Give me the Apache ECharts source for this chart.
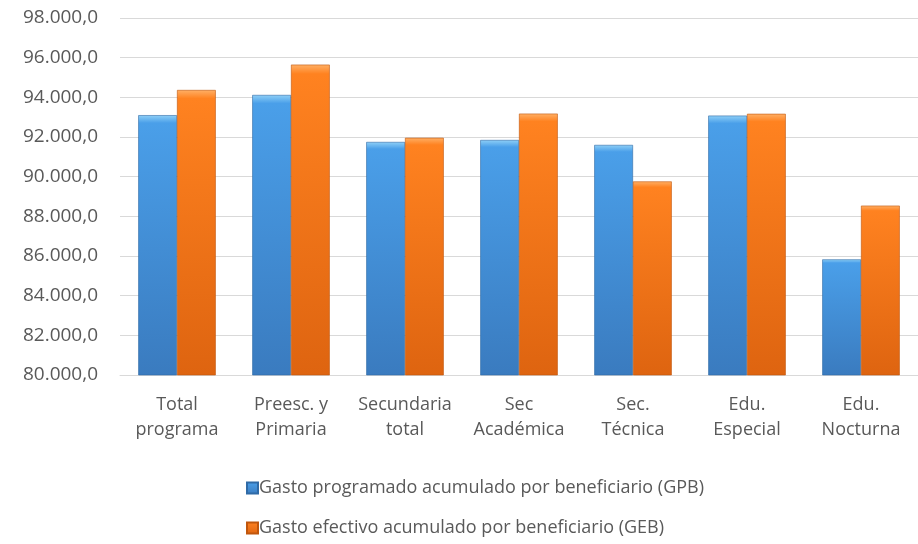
<!DOCTYPE html>
<html>
<head>
<meta charset="utf-8">
<script src="https://cdn.jsdelivr.net/npm/echarts@6/dist/echarts.min.js"></script>
<style>
  html, body { margin: 0; padding: 0; background: #fff; }
  #chart { width: 918px; height: 544px; }
</style>
</head>
<body>
<div id="chart"></div>
<script>
const categories = ['Total\nprograma', 'Preesc. y\nPrimaria', 'Secundaria\ntotal', 'Sec\nAcadémica', 'Sec.\nTécnica', 'Edu.\nEspecial', 'Edu.\nNocturna'];
const seriesNames = ['Gasto programado acumulado por beneficiario (GPB)', 'Gasto efectivo acumulado por beneficiario (GEB)'];
const gpbValues = [93100, 94120, 91750, 91850, 91600, 93080, 85830];
const gebValues = [94370, 95650, 91960, 93180, 89760, 93170, 88540];

const font = 'Open Sans, Noto Sans, sans-serif';
const textColor = '#595959';

function fmt(v) {
    // 98000 -> 98.000,0
    const s = Math.round(v).toString().replace(/\B(?=(\d{3})+(?!\d))/g, '.');
    return s + ',0';
}

function barFill(top, mid, bottom) {
    return new echarts.graphic.LinearGradient(0, 0, 0, 1, [
        { offset: 0, color: top },
        { offset: 0.03, color: mid },
        { offset: 1, color: bottom }
    ]);
}

const blueFill = barFill('#8fd0f7', '#4a9fe9', '#3a7bbf');
const orangeFill = barFill('#ffb066', '#ff8220', '#de6410');

const chart = echarts.init(document.getElementById('chart'));
chart.setOption({
    animation: false,
    grid: { left: 120, right: 0, top: 18, bottom: 169 },
    legend: {
        orient: 'vertical',
        left: 241,
        top: 474,
        itemWidth: 11,
        itemHeight: 11,
        itemGap: 22,
        icon: 'rect',
        textStyle: { color: textColor, fontSize: 18, fontFamily: font, padding: [0, 0, 0, -4] },
        data: seriesNames
    },
    xAxis: {
        type: 'category',
        data: categories,
        axisTick: { show: false },
        axisLine: { show: true, lineStyle: { color: '#d9d9d9', width: 1 } },
        axisLabel: {
            color: textColor,
            fontSize: 18,
            fontFamily: font,
            lineHeight: 25,
            margin: 17,
            interval: 0
        }
    },
    yAxis: {
        type: 'value',
        min: 80000,
        max: 98000,
        interval: 2000,
        axisLine: { show: false },
        axisTick: { show: false },
        axisLabel: {
            color: textColor,
            fontSize: 19,
            fontFamily: font,
            margin: 22,
            formatter: fmt
        },
        splitLine: { lineStyle: { color: '#d9d9d9', width: 1 } }
    },
    series: [{
        name: seriesNames[0],
        type: 'bar',
        data: gpbValues,
        barGap: '0%',
        barCategoryGap: '32%',
        itemStyle: { color: blueFill, borderColor: '#2f6aa6', borderWidth: 0.6 }
    }, {
        name: seriesNames[1],
        type: 'bar',
        data: gebValues,
        itemStyle: { color: orangeFill, borderColor: '#c0560c', borderWidth: 0.6 }
    }]
});
</script>
</body>
</html>
